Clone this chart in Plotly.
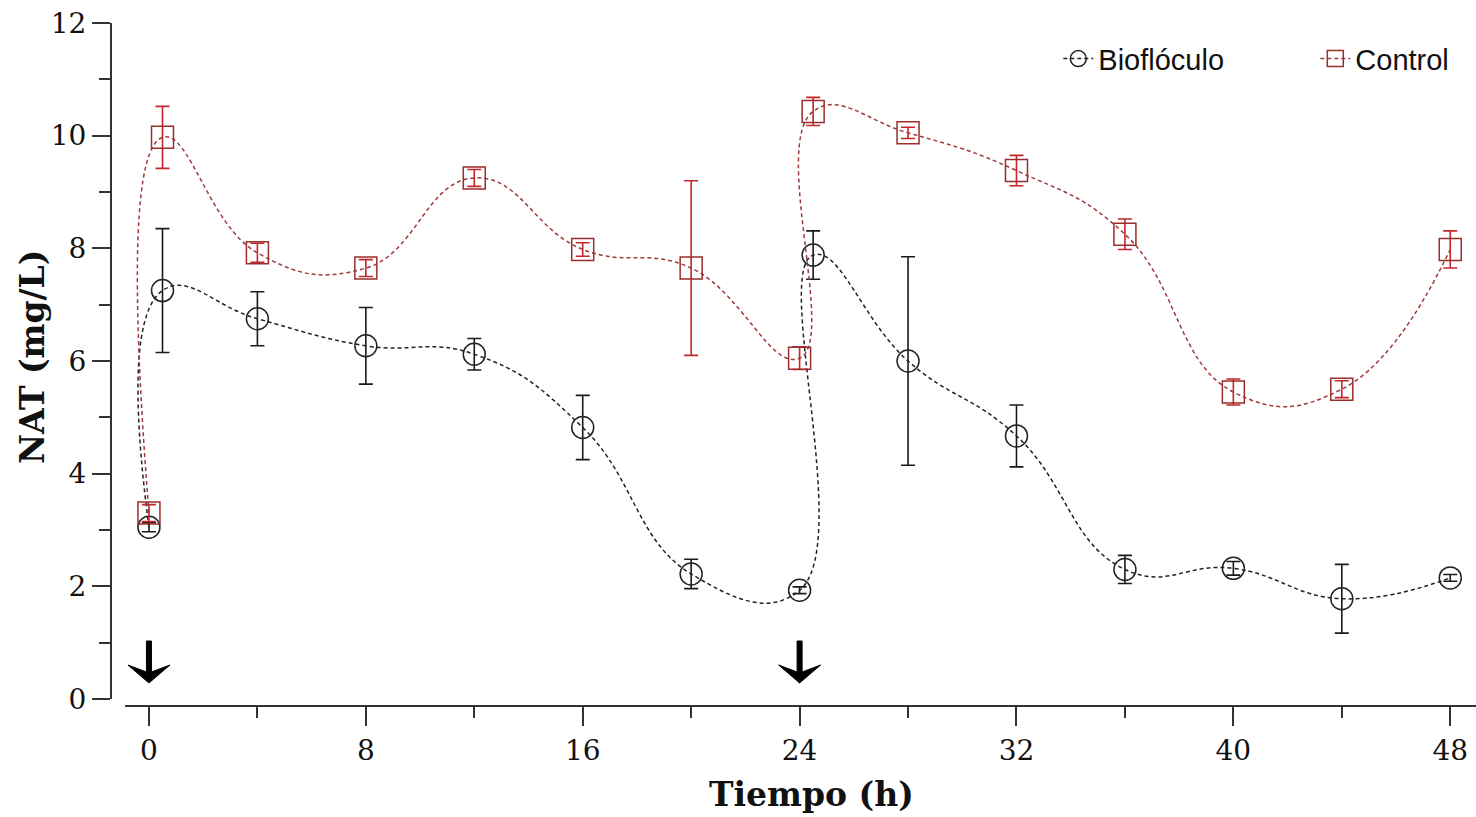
import plotly.graph_objects as go

# ---- data ----
tiempo = [0, 0.5, 4, 8, 12, 16, 20, 24, 24.5, 28, 32, 36, 40, 44, 48]
bio = [3.05, 7.25, 6.75, 6.27, 6.12, 4.82, 2.22, 1.93, 7.88, 6.0, 4.67, 2.30, 2.32, 1.78, 2.15]
bio_err = [0.08, 1.10, 0.48, 0.68, 0.28, 0.57, 0.26, 0.06, 0.43, 1.85, 0.55, 0.25, 0.12, 0.61, 0.06]
ctrl = [3.30, 9.97, 7.92, 7.65, 9.25, 7.98, 7.65, 6.05, 10.43, 10.05, 9.38, 8.25, 5.45, 5.50, 7.98]
ctrl_err = [0.15, 0.55, 0.17, 0.15, 0.15, 0.12, 1.55, 0.20, 0.25, 0.10, 0.27, 0.27, 0.23, 0.15, 0.33]
x_ticks = [0, 8, 16, 24, 32, 40, 48]
y_ticks = [0, 2, 4, 6, 8, 10, 12]
arrow_times = [0, 24]
x_title = "<b>Tiempo (h)</b>"
y_title = "<b>NAT (mg/L)</b>"

serif = "DejaVu Serif"
axis_col = "#333333"

fig = go.Figure()

fig.add_trace(go.Scatter(
    x=tiempo, y=bio, name="Bioflóculo", mode="lines+markers",
    line=dict(color="#222222", width=1.5, dash="4px,3px", shape="spline", smoothing=1.3),
    marker=dict(symbol="circle-open", size=22, color="#222222", line=dict(width=1.5)),
    error_y=dict(type="data", array=bio_err, visible=True, color="#1a1a1a", thickness=1.6, width=7),
))
fig.add_trace(go.Scatter(
    x=tiempo, y=ctrl, name="Control", mode="lines+markers",
    line=dict(color="#a03a3a", width=1.5, dash="4px,3px", shape="spline", smoothing=1.3),
    marker=dict(symbol="square-open", size=22, color="#9b2d2d", line=dict(width=1.5)),
    error_y=dict(type="data", array=ctrl_err, visible=True, color="#c4262b", thickness=1.6, width=7),
))

# axis lines (y axis stops at 0, x axis slightly below)
fig.add_shape(type="line", xref="paper", yref="y", x0=0, x1=0, y0=0, y1=12,
              line=dict(color=axis_col, width=2), layer="above")
fig.add_shape(type="line", xref="x", yref="paper", x0=-0.88, x1=48.95, y0=0, y1=0,
              line=dict(color=axis_col, width=2), layer="above")

# arrows: pixel-sized glyph anchored at each feeding time (y anchored at 0)
arrow_path = "M -2.5,58 L 2.5,58 L 2.5,27 L 21,34 L 0,16 L -21,34 L -2.5,27 Z"
for t in arrow_times:
    fig.add_shape(type="path", xref="x", yref="y", xsizemode="pixel", ysizemode="pixel",
                  xanchor=t, yanchor=0, path=arrow_path,
                  fillcolor="#000000", line=dict(color="#000000", width=1), layer="above")

# axis titles
fig.add_annotation(text=x_title, xref="paper", yref="paper", x=0.513, y=-0.13,
                   xanchor="center", yanchor="middle", showarrow=False,
                   font=dict(family=serif, size=33, color="#111111"))
fig.add_annotation(text=y_title, xref="paper", yref="paper", x=-0.0571, y=0.511,
                   xanchor="center", yanchor="middle", showarrow=False, textangle=-90,
                   font=dict(family=serif, size=33, color="#111111"))

fig.update_layout(
    width=1476, height=817,
    margin=dict(l=111, r=0, t=23, b=111, autoexpand=False),
    plot_bgcolor="white", paper_bgcolor="white",
    showlegend=True,
    legend=dict(orientation="h", x=0.694, xanchor="left", y=0.985, yanchor="top",
                font=dict(family="Liberation Sans", size=29, color="#111111"),
                bgcolor="rgba(0,0,0,0)", entrywidth=212, entrywidthmode="pixels",
                tracegroupgap=0),
    xaxis=dict(range=[-1.4, 48.95], tickmode="array", tickvals=x_ticks,
               ticks="outside", ticklen=19, tickwidth=2, tickcolor=axis_col,
               minor=dict(dtick=4, tick0=0, ticks="outside", ticklen=11, tickwidth=2, tickcolor=axis_col, showgrid=False),
               showgrid=False, zeroline=False, showline=False,
               tickfont=dict(family=serif, size=28, color="#111111")),
    yaxis=dict(range=[-0.124, 12], tickmode="array", tickvals=y_ticks,
               ticks="outside", ticklen=18, tickwidth=2, tickcolor=axis_col,
               minor=dict(dtick=1, tick0=0, ticks="outside", ticklen=11, tickwidth=2, tickcolor=axis_col, showgrid=False),
               showgrid=False, zeroline=False, showline=False,
               tickfont=dict(family=serif, size=28, color="#111111")),
)

fig.write_html("out.html")
